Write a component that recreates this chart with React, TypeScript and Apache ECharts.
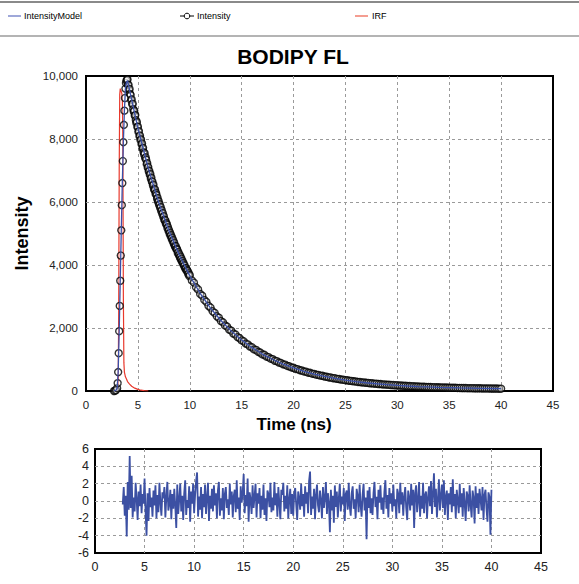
import React, { useEffect, useRef } from "react";
import * as echarts from "echarts";

// ---- Data ----
// Measured intensity: rising edge (explicit channel times)
const riseTimes = [2.7, 2.8, 2.9, 3.0, 3.05, 3.1, 3.15, 3.2, 3.25, 3.3, 3.35, 3.4, 3.45, 3.5, 3.55, 3.6, 3.65, 3.7, 3.75, 3.8, 3.85, 3.9, 3.95];
const riseValues = [0, 10, 30, 90, 250, 600, 1200, 1900, 2700, 3500, 4300, 5100, 5900, 6600, 7300, 7900, 8450, 8900, 9300, 9600, 9780, 9850, 9880];

// Early decay, one channel every 0.05 ns from 4.00 ns to 9.95 ns
const decayFineStart = 4.0;
const decayFineStep = 0.05;
const decayFineValues = [
  9890, 9710, 9720, 9560, 9590, 9430, 9395, 9230,
  9260, 9100, 9120, 8950, 8870, 8900, 8740, 8760,
  8600, 8510, 8540, 8380, 8390, 8230, 8250, 8090,
  8110, 7960, 7990, 7830, 7860, 7700, 7720, 7580,
  7510, 7550, 7390, 7420, 7340, 7200, 7230, 7090,
  7110, 6970, 6990, 6860, 6890, 6740, 6770, 6640,
  6650, 6520, 6550, 6410, 6370, 6400, 6260, 6290,
  6220, 6100, 6130, 6000, 6030, 5900, 5930, 5810,
  5840, 5710, 5740, 5620, 5650, 5520, 5550, 5440,
  5400, 5420, 5300, 5330, 5280, 5170, 5200, 5090,
  5110, 5000, 5030, 4920, 4950, 4840, 4870, 4760,
  4790, 4680, 4710, 4610, 4570, 4600, 4500, 4520,
  4480, 4380, 4410, 4310, 4340, 4240, 4270, 4170,
  4200, 4100, 4130, 4040, 4060, 3970, 3990, 3900,
  3880, 3900, 3810, 3840, 3800, 3710, 3740, 3650,
];

// Later decay, one value every 0.2 ns from 10.0 ns to 40.0 ns
const decayCoarseStart = 10.0;
const decayCoarseStep = 0.2;
const decayCoarseValues = [
  3680, 3510, 3440, 3290, 3225,
  3080, 3025, 2890, 2830, 2705,
  2650, 2530, 2480, 2370, 2325,
  2220, 2180, 2080, 2045, 1950,
  1915, 1825, 1795, 1710, 1680,
  1605, 1578, 1505, 1480, 1410,
  1388, 1320, 1302, 1240, 1220,
  1160, 1148, 1090, 1075, 1025,
  1010, 960, 948, 902, 888,
  846, 836, 795, 784, 748,
  738, 702, 693, 660, 651,
  620, 613, 583, 576, 549,
  543, 517, 511, 488, 481,
  458, 453, 432, 428, 407,
  404, 385, 380, 363, 359,
  342, 339, 324, 321, 306,
  303, 289, 286, 273, 271,
  259, 257, 245, 244, 233,
  232, 221, 220, 210, 210,
  200, 199, 190, 189, 181,
  181, 173, 172, 165, 164,
  157, 156, 150, 150, 144,
  143, 137, 137, 132, 131,
  127, 126, 122, 121, 117,
  117, 113, 112, 109, 108,
  105, 104, 101, 101, 98,
  98, 94, 94, 92, 91,
  89, 89, 86, 86, 84,
  84, 82, 82, 80, 80,
  78, 78, 76, 76, 74,
  74,
];

// Fitted model curve
const modelTimes = [2.7, 2.9, 3.0, 3.1, 3.2, 3.3, 3.4, 3.5, 3.6, 3.7, 3.8, 3.9, 4, 5, 6, 7, 8, 9, 10, 11, 12, 13, 14, 15, 16, 17, 18, 19, 20, 21, 22, 23, 24, 25, 26, 27, 28, 29, 30, 31, 32, 33, 34, 35, 36, 37, 38, 39, 40];
const modelValues = [0, 30, 90, 600, 1900, 3500, 5100, 6600, 7900, 8900, 9600, 9800, 9850, 8346, 7072, 5994, 5082, 4309, 3655, 3102, 2633, 2237, 1901, 1617, 1376, 1173, 1000, 854, 731, 626, 538, 463, 400, 346, 300, 262, 230, 202, 179, 159, 142, 128, 116, 106, 97, 90, 84, 79, 74];

// Instrument response function
const irfTimes = [2.8, 3.0, 3.1, 3.15, 3.2, 3.25, 3.3, 3.35, 3.4, 3.45, 3.5, 3.55, 3.6, 3.65, 3.7, 3.8, 3.9, 4.0, 4.2, 4.4, 4.7, 5.0, 5.3, 5.6, 6.0];
const irfValues = [0, 10, 200, 2500, 7000, 9400, 9600, 9550, 9500, 9450, 9300, 8000, 3000, 900, 600, 450, 380, 300, 220, 150, 90, 50, 25, 10, 0];

// Weighted residuals, one value every 0.1 ns from 2.8 ns to 40.0 ns
const residualStart = 2.8;
const residualStep = 0.1;
const residualValues = [
  -0.4, 1.6,
  -1.7, 0.6, -4.1, 2.2, -1.0, 5.2, -0.8, 2.9, -1.9, 0.4,
  -1.2, 2.1, 0.3, -2.2, 1.1, -0.6, 1.9, -1.4, 0.8, -0.3,
  2.6, -1.1, -4.0, 0.9, -2.3, 1.5, -0.7, 0.4, -1.8, 1.2,
  -0.5, 1.8, -2.0, 0.7, -1.3, 2.1, -0.2, -1.7, 1.0, 0.3,
  1.6, -1.9, 0.5, 2.2, -1.1, -0.4, 1.3, -2.1, 0.8, -0.9,
  1.4, -0.6, -3.1, 1.9, -1.5, 0.2, 2.0, -1.2, 0.6, -2.2,
  0.9, 2.4, -1.6, 0.1, -0.8, 1.7, -2.4, 1.1, -0.3, 2.0,
  -1.4, 0.7, 2.3, 3.3, -1.8, 0.5, -1.0, 1.6, -2.0, 0.8,
  -0.7, 1.9, -1.5, 0.4, 2.1, -2.3, 0.6, -0.9, 1.4, -1.2,
  1.8, -0.5, 0.9, -2.0, 1.2, 2.2, -1.7, 0.3, -1.1, 1.5,
  -2.1, 0.8, 1.6, -0.8, 0.2, -1.6, 2.0, -0.4, 1.1, -1.9,
  0.6, 1.3, -1.3, 2.4, -0.9, 0.4, -2.2, 1.7, -0.2, 0.9,
  3.1, -1.4, 0.7, -0.6, 2.6, -2.4, 1.0, 0.2, -1.5, 1.8,
  -0.8, 0.5, 2.0, -1.9, 0.9, -0.3, 1.5, -2.0, 0.6, -1.0,
  1.9, -1.6, 0.3, -2.3, 1.2, 0.8, -0.7, 2.1, -1.3, 0.4,
  -1.1, 2.2, -0.5, 0.9, -1.8, 1.6, -0.2, -2.1, 1.3, 0.7,
  2.1, -1.2, 0.6, -0.9, 1.8, -2.0, 0.2, 1.4, -1.5, 0.8,
  -1.7, 0.9, 1.5, -0.4, -2.2, 1.1, 0.3, -1.0, 2.0, -0.6,
  0.8, -1.8, 1.7, -0.3, 1.0, -1.4, 2.3, 3.4, -1.6, 0.5,
  -0.9, 1.4, -2.1, 0.7, 1.9, -0.5, -1.3, 1.2, 0.1, -2.0,
  1.6, -0.8, 0.4, 2.2, -1.5, 0.9, -0.2, -3.6, 1.3, -1.1,
  0.6, -2.5, 1.8, -0.7, 1.1, -1.9, 0.3, 2.0, -1.2, 0.5,
  -0.4, 1.5, -2.3, 0.8, 1.2, -1.0, 2.1, -0.6, -1.7, 0.9,
  1.7, -0.9, 0.2, -2.0, 1.4, 0.6, -1.3, 1.9, -0.5, -1.8,
  0.7, 2.0, -1.1, 0.4, -4.4, 1.2, -0.8, 1.6, -1.4, 0.3,
  -1.6, 0.9, 2.2, -0.7, 0.5, -2.1, 1.3, -0.2, 1.8, -1.0,
  0.4, -1.5, 1.1, 2.4, -0.9, 0.7, -1.9, 1.5, -0.3, 0.9,
  -1.2, 1.9, -0.6, 0.2, -2.0, 1.4, 0.8, -1.4, 2.1, -0.4,
  1.0, -1.7, 0.5, 1.6, -0.8, -2.2, 1.2, 0.3, -1.1, 2.0,
  -0.5, 1.3, -3.1, 0.9, 1.8, -1.3, 0.1, 2.2, -1.8, 0.6,
  -0.9, 2.1, -1.4, 0.7, 1.1, -2.0, 0.4, 1.7, -0.6, 2.3,
  -1.5, 0.8, 3.2, -0.7, 1.4, -1.9, 0.2, 2.5, -1.1, 0.6,
  1.9, -0.8, 2.4, -1.6, 0.5, 1.2, -2.2, 0.9, -0.4, 1.6,
  -1.3, 2.5, -0.6, 0.8, -2.0, 1.3, 0.1, -1.4, 2.0, -0.7,
  0.9, -1.8, 1.5, -0.3, -2.3, 1.1, 0.6, -1.2, 1.8, -0.5,
  -1.9, 1.2, 0.4, -2.6, 1.7, -0.8, 0.9, -1.5, 1.4, 0.2,
  -1.1, 1.6, -2.2, 0.7, 1.3, -0.9, -2.4, 1.0, 0.5, -3.9,
  1.3,
];

// Axis settings
const timeMin = 0;
const timeMax = 45;
const timeInterval = 5;
const intensityMax = 10000;
const intensityInterval = 2000;
const residualMin = -6;
const residualMax = 6;
const residualInterval = 2;

const FONT = "'Liberation Sans', Arial, Helvetica, sans-serif";

function round2(v: number) {
  return Math.round(v * 100) / 100;
}

export default function App() {
  const ref = useRef<HTMLDivElement>(null);

  useEffect(() => {
    if (!ref.current) return;
    const chart = echarts.init(ref.current, null, { renderer: "svg" });

    const intensityData = riseTimes
      .map((t, i) => [t, riseValues[i]])
      .concat(decayFineValues.map((v, i) => [round2(decayFineStart + i * decayFineStep), v]))
      .concat(decayCoarseValues.map((v, i) => [round2(decayCoarseStart + i * decayCoarseStep), v]));
    const modelData = modelTimes.map((t, i) => [t, modelValues[i]]);
    const irfData = irfTimes.map((t, i) => [t, irfValues[i]]);
    const residualData = residualValues.map((v, i) => [round2(residualStart + i * residualStep), v]);

    const dashed = {
      show: true,
      showMinLine: false,
      showMaxLine: false,
      lineStyle: { color: "#9a9a9a", type: [3, 3], width: 1 },
    };

    const option: any = {
      animation: false,
      backgroundColor: "#ffffff",
      textStyle: { fontFamily: FONT },
      grid: [
        { left: 86, top: 76, width: 467, height: 315, show: true, borderColor: "#000", borderWidth: 2, backgroundColor: "transparent" },
        { left: 95, top: 449, width: 446, height: 104, show: true, borderColor: "#000", borderWidth: 2, backgroundColor: "transparent" },
      ],
      xAxis: [
        {
          gridIndex: 0,
          type: "value",
          min: timeMin,
          max: timeMax,
          interval: timeInterval,
          axisLine: { show: false },
          axisTick: { show: false },
          splitLine: dashed,
          axisLabel: { color: "#222", fontSize: 11.5, fontFamily: FONT, margin: 8 },
          name: "Time (ns)",
          nameLocation: "middle",
          nameGap: 25,
          nameTextStyle: { color: "#000", fontSize: 17, fontWeight: "bold", fontFamily: FONT, padding: [0, 51, 0, 0] },
        },
        {
          gridIndex: 1,
          type: "value",
          min: timeMin,
          max: timeMax,
          interval: timeInterval,
          axisLine: { show: false },
          axisTick: { show: false },
          splitLine: dashed,
          axisLabel: { color: "#222", fontSize: 12.5, fontFamily: FONT, margin: 7 },
        },
      ],
      yAxis: [
        {
          gridIndex: 0,
          type: "value",
          min: 0,
          max: intensityMax,
          interval: intensityInterval,
          axisLine: { show: false },
          axisTick: { show: false },
          splitLine: dashed,
          axisLabel: {
            color: "#222",
            fontSize: 11.5,
            fontFamily: FONT,
            margin: 8,
            formatter: (v: number) => v.toLocaleString("en-US"),
          },
          name: "Intensity",
          nameLocation: "middle",
          nameGap: 55,
          nameTextStyle: { color: "#000", fontSize: 18, fontWeight: "bold", fontFamily: FONT },
        },
        {
          gridIndex: 1,
          type: "value",
          min: residualMin,
          max: residualMax,
          interval: residualInterval,
          axisLine: { show: false },
          axisTick: { show: false },
          splitLine: dashed,
          axisLabel: { color: "#222", fontSize: 12.5, fontFamily: FONT, margin: 6 },
        },
      ],
      graphic: [
        { type: "line", shape: { x1: 0, y1: 2, x2: 579, y2: 2 }, style: { stroke: "#8a8a8a", lineWidth: 2 } },
        { type: "line", shape: { x1: 0, y1: 36, x2: 579, y2: 36 }, style: { stroke: "#b4b4b4", lineWidth: 2 } },
        { type: "line", shape: { x1: 8, y1: 16, x2: 21, y2: 16 }, style: { stroke: "#7f8bcc", lineWidth: 1.5 } },
        { type: "text", x: 24, y: 16, style: { text: "IntensityModel", fontSize: 9, fontFamily: FONT, fill: "#000", verticalAlign: "middle" } },
        { type: "line", shape: { x1: 180, y1: 16, x2: 194, y2: 16 }, style: { stroke: "#000", lineWidth: 1 } },
        { type: "circle", shape: { cx: 187, cy: 16, r: 2.8 }, style: { fill: "#fff", stroke: "#000", lineWidth: 1 } },
        { type: "text", x: 197, y: 16, style: { text: "Intensity", fontSize: 9, fontFamily: FONT, fill: "#000", verticalAlign: "middle" } },
        { type: "line", shape: { x1: 355, y1: 16, x2: 368, y2: 16 }, style: { stroke: "#f07c6c", lineWidth: 1.5 } },
        { type: "text", x: 372, y: 16, style: { text: "IRF", fontSize: 9, fontFamily: FONT, fill: "#000", verticalAlign: "middle" } },
        {
          type: "text",
          x: 293,
          y: 56,
          style: { text: "BODIPY FL", fontSize: 21, fontWeight: "bold", fontFamily: FONT, fill: "#000", align: "center", verticalAlign: "middle" },
        },
      ],
      series: [
        {
          name: "IRF",
          type: "line",
          xAxisIndex: 0,
          yAxisIndex: 0,
          data: irfData,
          showSymbol: false,
          lineStyle: { color: "#e8382c", width: 1.2 },
          z: 2,
        },
        {
          name: "Intensity",
          type: "scatter",
          xAxisIndex: 0,
          yAxisIndex: 0,
          data: intensityData,
          symbol: "circle",
          symbolSize: 7,
          itemStyle: { color: "rgba(255,255,255,0.45)", borderColor: "#000000", borderWidth: 1.4 },
          z: 3,
        },
        {
          name: "IntensityModel",
          type: "line",
          xAxisIndex: 0,
          yAxisIndex: 0,
          data: modelData,
          showSymbol: false,
          lineStyle: { color: "#3a4fa8", width: 1.3 },
          z: 4,
        },
        {
          name: "Residuals",
          type: "line",
          xAxisIndex: 1,
          yAxisIndex: 1,
          data: residualData,
          showSymbol: false,
          lineStyle: { color: "#3c50a3", width: 1.8 },
          z: 3,
        },
      ],
    };

    chart.setOption(option);
    return () => chart.dispose();
  }, []);

  return (
    <div
      ref={ref}
      style={{ position: "absolute", left: 0, top: 0, width: 579, height: 584, background: "#fff" }}
    />
  );
}
